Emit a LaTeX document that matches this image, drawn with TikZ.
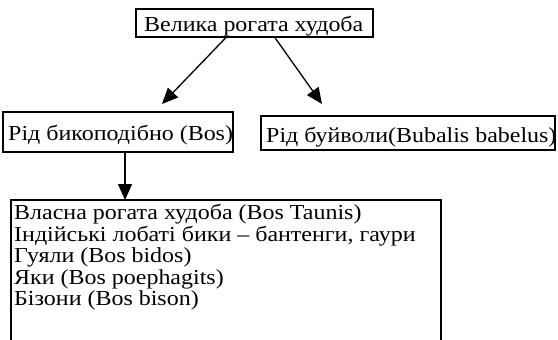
\documentclass[tikz,border=0pt]{standalone}
\usepackage{fontspec}
\setmainfont{Liberation Serif}[FakeStretch=1.12]
\usetikzlibrary{arrows.meta}
\begin{document}
\begin{tikzpicture}[x=1pt,y=-1pt,
  box/.style={draw,line width=1.3pt,inner sep=0pt,outer sep=0pt},
  lbl/.style={inner sep=0pt,anchor=base west,font=\fontsize{21.4}{21.5}\selectfont},
  arr/.style={line width=1.3pt,-{Triangle[length=16pt,width=14pt]}}]
\useasboundingbox (0,0) rectangle (558,340);
% boxes
\node[box,anchor=north west,minimum width=237,minimum height=28] (top) at (136,9) {};
\node[box,anchor=north west,minimum width=230,minimum height=40] (bos) at (3,112) {};
\node[box,anchor=north west,minimum width=294,minimum height=34] (bub) at (261,116) {};
\node[box,anchor=north west,minimum width=430,minimum height=170] (list) at (11,200) {};
% labels
\node[lbl] (ttop) at ([xshift=8,yshift=5.5]top.south west) {Велика рогата худоба};
\node[lbl] (tbos) at ([xshift=5,yshift=11.5]bos.south west) {Рід бикоподібно (Bos)};
\node[lbl] (tbub) at ([xshift=5,yshift=7.5]bub.south west) {Рід буйволи(Bubalis babelus)};
\node[lbl] (l1) at (14,219.5) {Власна рогата худоба (Bos Taunis)};
\node[lbl] (l2) at (14,241) {Індійські лобаті бики – бантенги, гаури};
\node[lbl] (l3) at (14,262.5) {Гуяли (Bos bidos)};
\node[lbl] (l4) at (14,284) {Яки (Bos poephagits)};
\node[lbl] (l5) at (14,305.5) {Бізони (Bos bison)};
% connectors
\coordinate (tipbos) at (162,104);
\coordinate (tipbub) at (322,104);
\draw[arr] ([xshift=-28]top.south) -- (tipbos);
\draw[arr] ([xshift=20]top.south) -- (tipbub);
\draw[arr] (bos.south -| 125,0) -- (list.north -| 125,0);
\end{tikzpicture}
\end{document}
